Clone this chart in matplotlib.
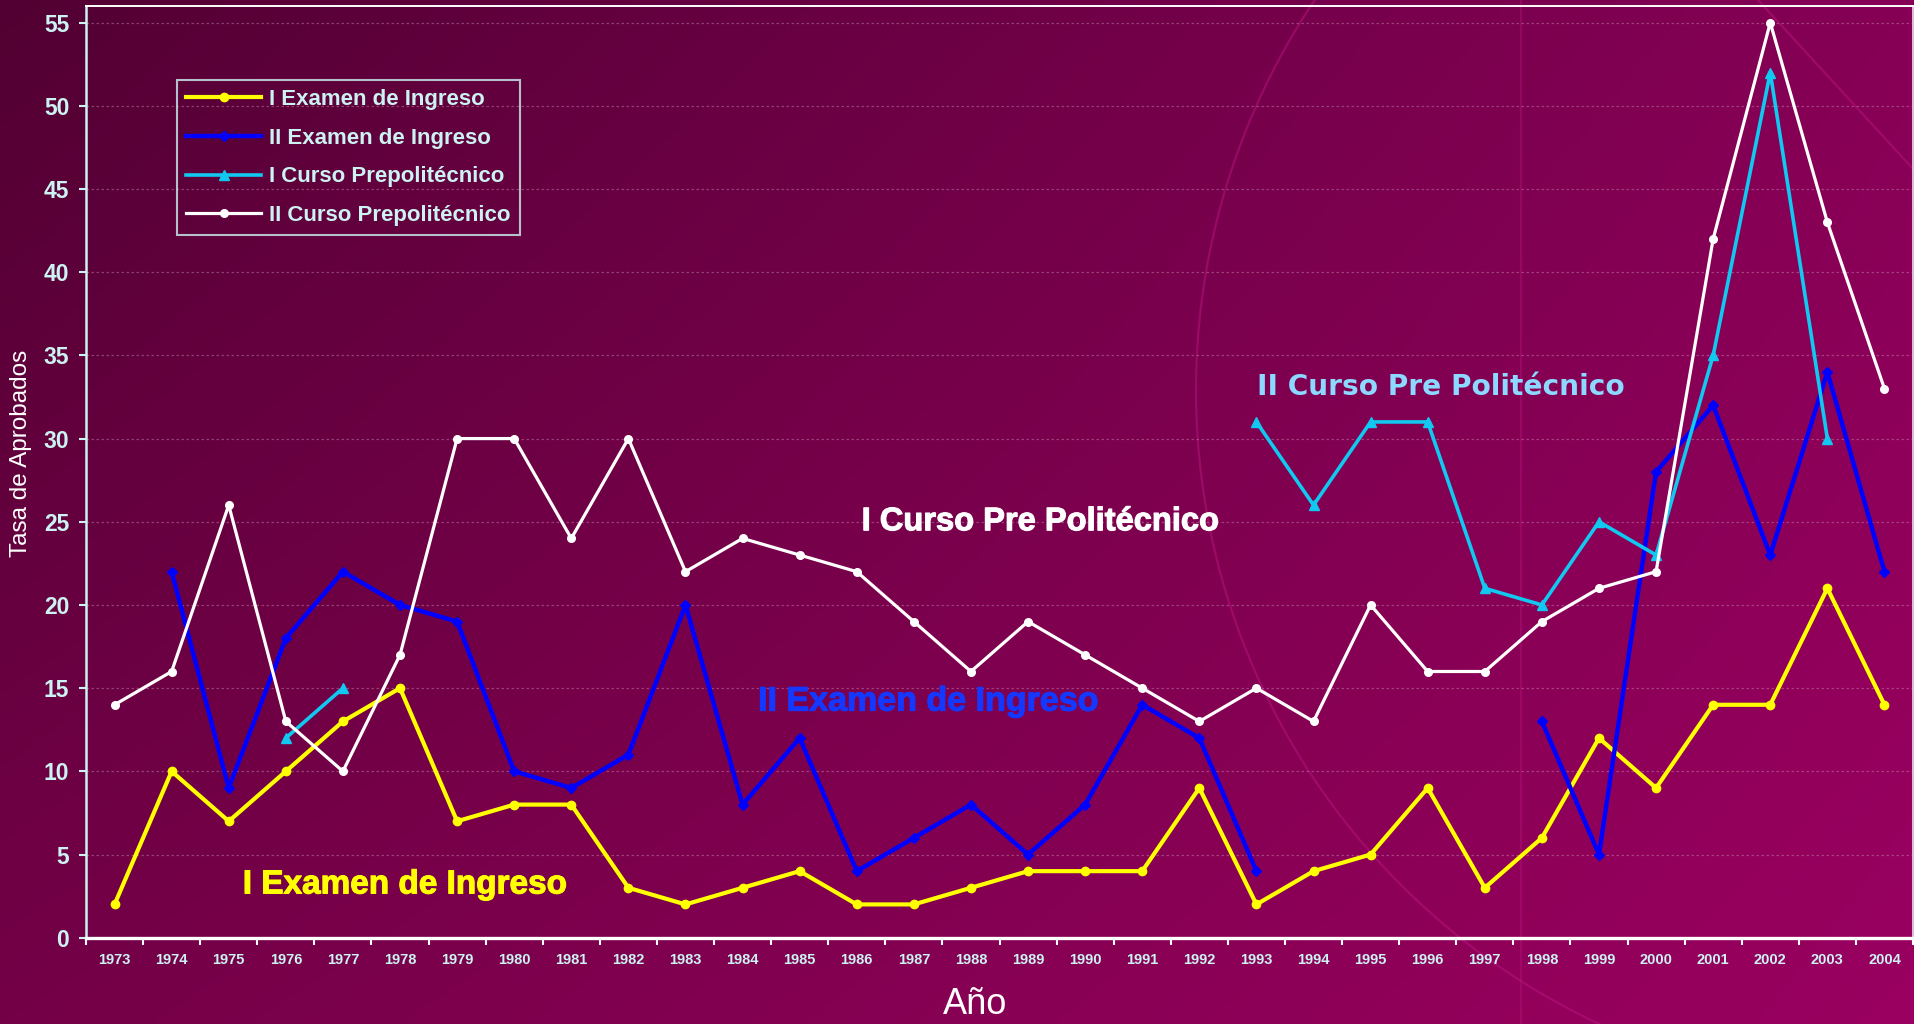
import numpy as np
import matplotlib.pyplot as plt
import matplotlib.patheffects as pe
from matplotlib import font_manager
from matplotlib.patches import Circle

nan = np.nan

years = list(range(1973, 2005))

examen_1 = [2, 10, 7, 10, 13, 15, 7, 8, 8, 3, 2, 3, 4, 2, 2, 3,
            4, 4, 4, 9, 2, 4, 5, 9, 3, 6, 12, 9, 14, 14, 21, 14]
examen_2 = [nan, 22, 9, 18, 22, 20, 19, 10, 9, 11, 20, 8, 12, 4, 6, 8,
            5, 8, 14, 12, 4, nan, nan, nan, nan, 13, 5, 28, 32, 23, 34, 22]
curso_1 = [nan, nan, nan, 12, 15, nan, nan, nan, nan, nan, nan, nan, nan, nan, nan, nan,
           nan, nan, nan, nan, 31, 26, 31, 31, 21, 20, 25, 23, 35, 52, 30, nan]
curso_2 = [14, 16, 26, 13, 10, 17, 30, 30, 24, 30, 22, 24, 23, 22, 19, 16,
           19, 17, 15, 13, 15, 13, 20, 16, 16, 19, 21, 22, 42, 55, 43, 33]

series_names = ["I Examen de Ingreso", "II Examen de Ingreso",
                "I Curso Prepolitécnico", "II Curso Prepolitécnico"]

LIGHT = "#ccf2f2"

installed = {f.name for f in font_manager.fontManager.ttflist}
has_narrow = "Liberation Sans Narrow" in installed
narrow = "Liberation Sans Narrow" if has_narrow else "Liberation Sans"

plt.rcParams["font.family"] = ["Liberation Sans", "DejaVu Sans"]

W, H = 1915, 1024
fig = plt.figure(figsize=(W / 100, H / 100), dpi=100)

# background gradient + faint decoration
bg = fig.add_axes([0, 0, 1, 1])
bg.set_xlim(0, W)
bg.set_ylim(H, 0)
bg.axis("off")
tl = np.array([0x52, 0x00, 0x33]) / 255
tr = np.array([0x86, 0x00, 0x56]) / 255
bl = np.array([0x74, 0x00, 0x47]) / 255
br = np.array([0x9a, 0x00, 0x60]) / 255
u = np.linspace(0, 1, 200)[None, :, None]
v = np.linspace(0, 1, 120)[:, None, None]
grad = (1 - v) * ((1 - u) * tl + u * tr) + v * ((1 - u) * bl + u * br)
bg.imshow(grad, extent=(0, W, H, 0), aspect="auto", interpolation="bilinear")
bg.add_patch(Circle((1896, 390), 700, fill=False, ec="#b8157e", lw=1.6, alpha=0.5))
bg.plot([1521, 1521], [0, H], color="#b8157e", lw=1.6, alpha=0.4)
bg.plot([1758, W], [0, 171], color="#b8157e", lw=1.6, alpha=0.5)

ax = fig.add_axes([86 / W, 1 - 937.7 / H, (1913 - 86) / W, (937.7 - 6) / H])
ax.set_facecolor("none")

ax.plot(years, examen_1, color="#ffff00", lw=3.0, marker="o", ms=6, label=series_names[0])
ax.plot(years, examen_2, color="#0000ff", lw=3.2, marker="D", ms=5, label=series_names[1])
ax.plot(years, curso_1, color="#10c8f0", lw=2.6, marker="^", ms=7, label=series_names[2])
ax.plot(years, curso_2, color="#ffffff", lw=2.3, marker="o", ms=5.5, label=series_names[3])

ax.set_xlim(1972.5, 2004.5)
ax.set_ylim(0, 56)
ax.set_yticks(range(0, 56, 5))
ax.set_xticks(years)
ax.set_xticks(np.arange(1972.5, 2005, 1), minor=True)
ax.tick_params(axis="x", which="major", length=0, pad=11, labelsize=10.5, labelcolor=LIGHT)
ax.tick_params(axis="x", which="minor", length=5, width=1.5, color="white", direction="out")
ax.tick_params(axis="y", length=5, width=1.5, color=LIGHT, pad=7, labelsize=16.5, labelcolor=LIGHT)
for lab in ax.get_xticklabels() + ax.get_yticklabels():
    lab.set_fontweight("bold")

ax.grid(axis="y", color="#c890b0", lw=0.9, ls=(0, (2, 2)), alpha=0.45)
ax.spines["left"].set_color(LIGHT)
ax.spines["left"].set_linewidth(1.8)
ax.spines["bottom"].set_color("white")
ax.spines["bottom"].set_linewidth(2.4)
ax.spines["top"].set_color("white")
ax.spines["top"].set_linewidth(1.4)
ax.spines["right"].set_color("#f0e0f0")
ax.spines["right"].set_linewidth(1.2)

leg = ax.legend(loc="upper left", bbox_to_anchor=(0.0498, 0.9206), borderaxespad=0,
                prop={"size": 16, "weight": "bold"}, handlelength=3.4, handletextpad=0.35,
                labelspacing=0.8, borderpad=0.4, fancybox=False, facecolor="none",
                edgecolor=LIGHT, labelcolor=LIGHT)
leg.get_frame().set_linewidth(1.5)


def heavy(color, w=0.8):
    return [pe.withStroke(linewidth=w, foreground=color)]


ax.text(1978.09, 3.17, "I Examen de Ingreso", color="#ffff00", fontsize=24,
        fontweight="bold", ha="center", va="center", path_effects=heavy("#ffff00"))
ax.text(1987.25, 14.16, "II Examen de Ingreso", color="#1438ff", fontsize=24.5,
        fontweight="bold", ha="center", va="center", path_effects=heavy("#1438ff"))
ax.text(1989.21, 25.0, "I Curso Pre Politécnico", color="white", fontsize=23.5,
        fontweight="bold", ha="center", va="center", path_effects=heavy("white"))
ax.text(1996.23, 33.07, "II Curso Pre Politécnico", color="#8cd8ff", fontsize=20.2,
        fontweight="bold", ha="center", va="center", family="DejaVu Sans")

fig.text(21 / W, 1 - 453 / H, "Tasa de Aprobados", rotation=90, color="white",
         fontsize=21 if has_narrow else 17.5, family=narrow, ha="center", va="center")
fig.text(975 / W, 1 - 1005 / H, "Año", color="white", fontsize=26, family=narrow,
         ha="center", va="center")

fig.savefig("out.png", dpi=100)
